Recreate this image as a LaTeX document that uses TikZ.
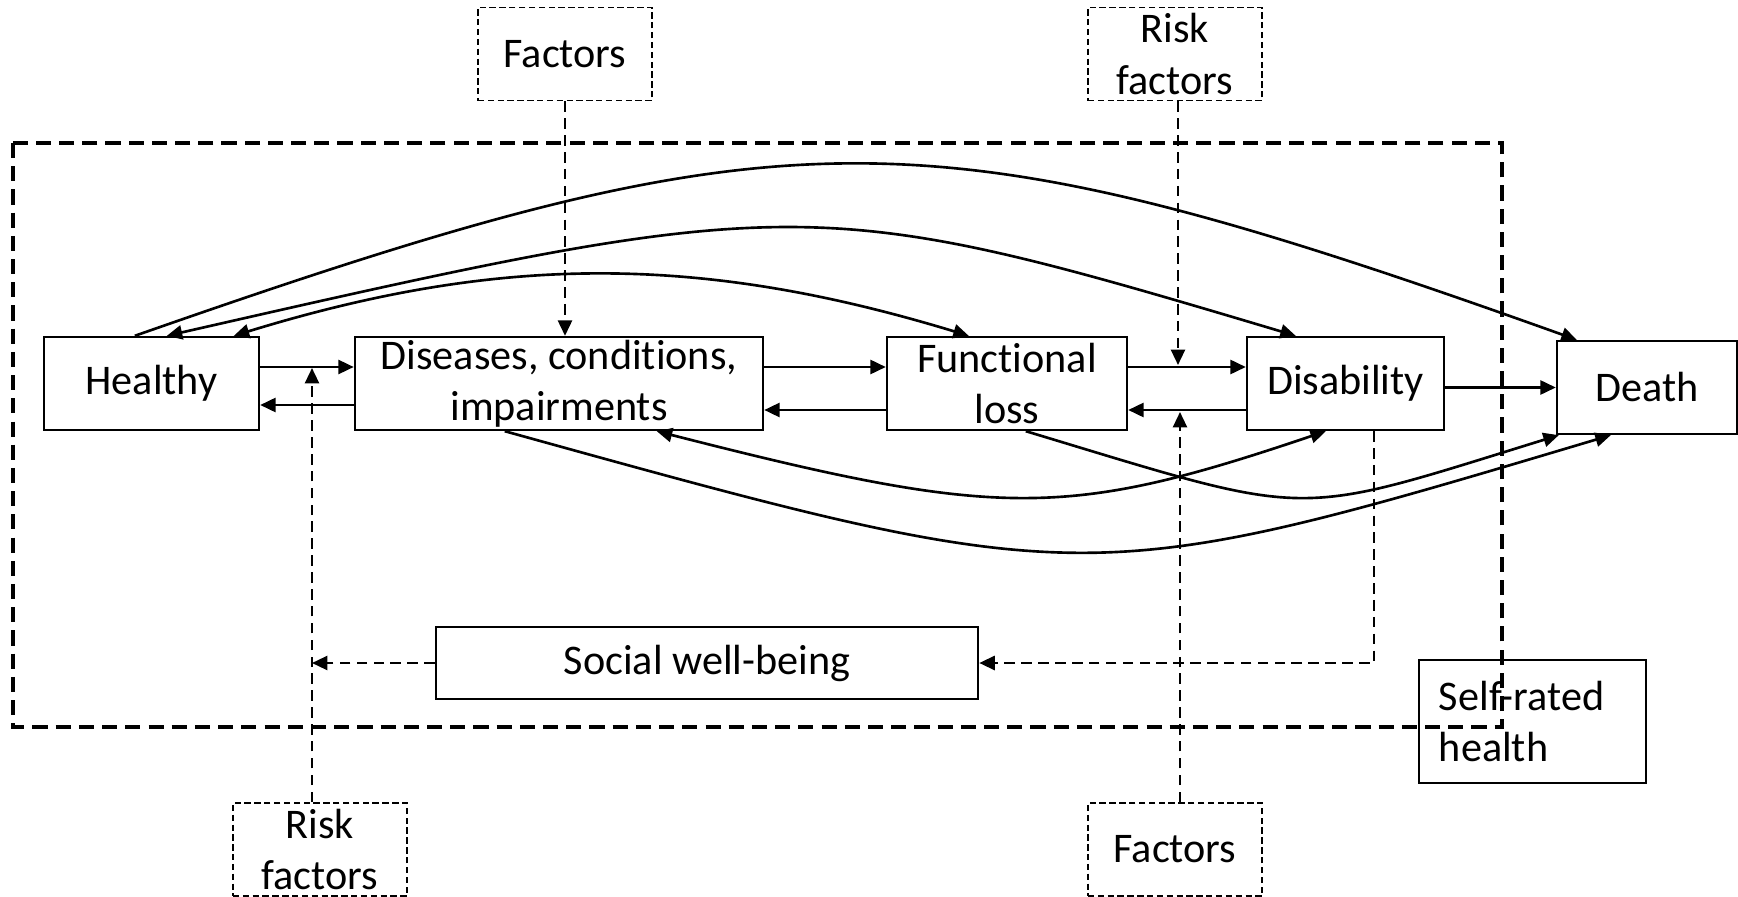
\documentclass[tikz,border=0pt]{standalone}
\usepackage{fontspec}
\setmainfont{Carlito}[Ligatures=NoCommon]
\usetikzlibrary{arrows.meta,calc}

\begin{document}
\begin{tikzpicture}[
  x=0.01cm, y=-0.01cm,
  box/.style={draw, line width=0.65pt, inner sep=0pt, align=center, font=\fontsize{12}{14.6}\selectfont},
  dbox/.style={box, line width=0.5pt, dash pattern=on 1.8pt off 1pt, minimum width=1.74cm, minimum height=0.93cm},
  arrow/.style={-{Triangle[length=4.4pt, width=4pt]}, line width=0.75pt},
  biarrow/.style={{Triangle[length=4.4pt, width=4pt]}-{Triangle[length=4.4pt, width=4pt]}, line width=0.75pt},
  darrow/.style={arrow, line width=0.7pt, dash pattern=on 3pt off 1.8pt},
  frame/.style={line width=1pt, dash pattern=on 4.3pt off 2.3pt}
]
\useasboundingbox (0,0) rectangle (1738,897);

\node[box, minimum width=2.15cm, minimum height=0.93cm] (healthy) at (151.5,383.5) {Healthy};
\node[box, minimum width=4.08cm, minimum height=0.93cm] (disease) at (559,383.5) {Diseases, conditions,\\impairments};
\node[box, minimum width=2.40cm, minimum height=0.93cm] (funcloss) at (1007,383.5) {Functional\\loss};
\node[box, minimum width=1.97cm, minimum height=0.93cm] (disab) at (1345.5,383.5) {Disability};
\node[box, minimum width=1.80cm, minimum height=0.93cm] (death) at (1647,387.5) {Death};
\node[box, minimum width=5.42cm, minimum height=0.72cm] (social) at (707,663) {Social well-being};
\node[box, align=left, text width=1.87cm, inner xsep=0.2cm, minimum height=1.23cm] (selfrated) at (1532.5,721.5) {Self-rated\\health};

\node[dbox] (factorstop) at (565,54) {Factors};
\node[dbox] (risktop) at (1175,54) {Risk\\factors};
\node[dbox] (riskbot) at (320,849.5) {Risk\\factors};
\node[dbox] (factorsbot) at (1175,849.5) {Factors};

\draw[frame] (13,143) rectangle (1502,727);

\draw[arrow] ($(healthy.east)+(0,-16.5)$) -- ($(disease.west)+(0,-16.5)$);
\draw[arrow] ($(disease.west)+(0,21.5)$) -- ($(healthy.east)+(0,21.5)$);
\draw[arrow] ($(disease.east)+(0,-16.5)$) -- ($(funcloss.west)+(0,-16.5)$);
\draw[arrow] ($(funcloss.west)+(0,26.5)$) -- ($(disease.east)+(0,26.5)$);
\draw[arrow] ($(funcloss.east)+(0,-16.5)$) -- ($(disab.west)+(0,-16.5)$);
\draw[arrow] ($(disab.west)+(0,26.5)$) -- ($(funcloss.east)+(0,26.5)$);
\draw[arrow] (disab.east |- death.west) -- (death.west);

\draw[arrow] ($(healthy.north west)+(92,0)$) .. controls (791,106) and (923,106) .. ($(death.north west)+(21,0)$);
\draw[biarrow] ($(healthy.north west)+(124,0)$) .. controls (798,192) and (814,192) .. ($(disab.north west)+(50,0)$);
\draw[biarrow] ($(healthy.north west)+(191,0)$) .. controls (500,254) and (700,254) .. ($(funcloss.north west)+(83,0)$);
\draw[arrow] ($(disease.south west)+(151,0)$) .. controls (1085,592) .. ($(death.south west)+(55,0)$);
\draw[biarrow] ($(disease.south west)+(303,0)$) .. controls (1000,519) and (1066,519) .. ($(disab.south west)+(80,0)$);
\draw[arrow] ($(funcloss.south west)+(140,0)$) .. controls (1317,519) and (1288,519) .. ($(death.south west)+(3,0)$);

\draw[darrow] (factorstop.south) -- (factorstop.south |- disease.north);
\draw[darrow] ($(risktop.south)+(3,0)$) -- ($(risktop.south |- funcloss.east)+(3,-18.5)$);
\draw[darrow] ($(factorsbot.north)+(5,0)$) -- ($(factorsbot.north |- funcloss.east)+(5,28.5)$);
\draw[darrow] ($(riskbot.north)+(-8,0)$) -- ($(riskbot.north |- healthy.east)+(-8,-15.5)$);
\draw[darrow] (social.west) -- ($(social.west -| riskbot.north)+(-8,0)$);
\draw[darrow] ($(disab.south)+(28.5,0)$) |- (social.east);

\end{tikzpicture}
\end{document}
